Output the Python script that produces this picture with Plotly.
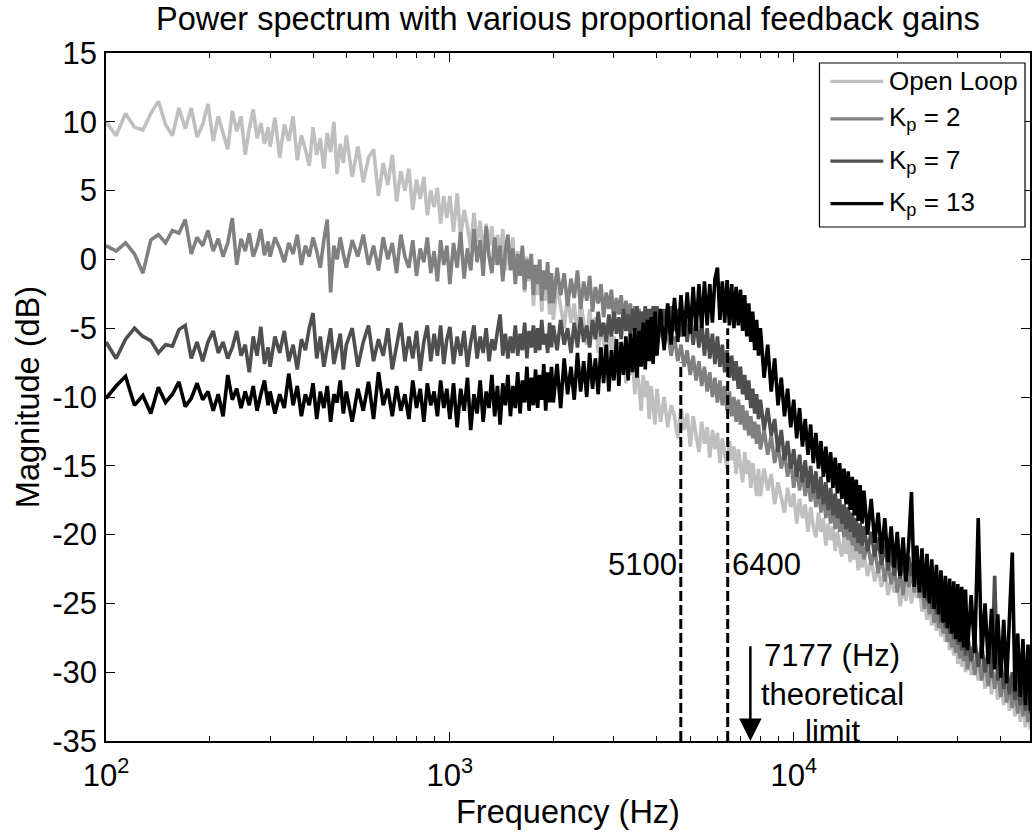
import numpy as np
import plotly.graph_objects as go

# ---------------- data ----------------
freq_hz = [
    # 100-296 Hz
    100, 107, 114, 121, 128, 135, 142, 149, 156, 163,
    170, 177, 184, 191, 198, 205, 212, 219, 226, 233,
    240, 247, 254, 261, 268, 275, 282, 289, 296,
    # 300-490 Hz
    300, 310, 320, 330, 340, 350, 360, 370, 380, 390,
    400, 410, 420, 430, 440, 450, 460, 470, 480, 490,
    # 500-980 Hz
    500, 520, 540, 560, 580, 600, 620, 640, 660, 680,
    700, 720, 740, 760, 780, 800, 820, 840, 860, 880,
    900, 920, 940, 960, 980,
    # 1000-1975 Hz
    1000, 1025, 1050, 1075, 1100, 1125, 1150, 1175, 1200, 1225,
    1250, 1275, 1300, 1325, 1350, 1375, 1400, 1425, 1450, 1475,
    1500, 1525, 1550, 1575, 1600, 1625, 1650, 1675, 1700, 1725,
    1750, 1775, 1800, 1825, 1850, 1875, 1900, 1925, 1950, 1975,
    # 2000-3950 Hz
    2000, 2050, 2100, 2150, 2200, 2250, 2300, 2350, 2400, 2450,
    2500, 2550, 2600, 2650, 2700, 2750, 2800, 2850, 2900, 2950,
    3000, 3050, 3100, 3150, 3200, 3250, 3300, 3350, 3400, 3450,
    3500, 3550, 3600, 3650, 3700, 3750, 3800, 3850, 3900, 3950,
    # 4000-7900 Hz
    4000, 4100, 4200, 4300, 4400, 4500, 4600, 4700, 4800, 4900,
    5000, 5100, 5200, 5300, 5400, 5500, 5600, 5700, 5800, 5900,
    6000, 6100, 6200, 6300, 6400, 6500, 6600, 6700, 6800, 6900,
    7000, 7100, 7200, 7300, 7400, 7500, 7600, 7700, 7800, 7900,
    # 8000-15800 Hz
    8000, 8200, 8400, 8600, 8800, 9000, 9200, 9400, 9600, 9800,
    10000, 10200, 10400, 10600, 10800, 11000, 11200, 11400, 11600, 11800,
    12000, 12200, 12400, 12600, 12800, 13000, 13200, 13400, 13600, 13800,
    14000, 14200, 14400, 14600, 14800, 15000, 15200, 15400, 15600, 15800,
    # 16000-31600 Hz
    16000, 16400, 16800, 17200, 17600, 18000, 18400, 18800, 19200, 19600,
    20000, 20400, 20800, 21200, 21600, 22000, 22400, 22800, 23200, 23600,
    24000, 24400, 24800, 25200, 25600, 26000, 26400, 26800, 27200, 27600,
    28000, 28400, 28800, 29200, 29600, 30000, 30400, 30800, 31200, 31600,
    # 32000-48800 Hz
    32000, 32800, 33600, 34400, 35200, 36000, 36800, 37600, 38400, 39200,
    40000, 40800, 41600, 42400, 43200, 44000, 44800, 45600, 46400, 47200,
    48000, 48800]

open_loop_db = [
    10.0, 9.0, 10.6, 9.6, 9.4, 10.6, 11.5, 9.8, 9.0, 11.0,
    9.5, 11.0, 8.9, 9.8, 11.3, 8.6, 10.4, 9.2, 8.0, 10.8,
    9.3, 10.4, 7.6, 9.5, 10.9, 8.8, 9.9, 8.4, 9.6,
    8.2, 10.3, 7.4, 9.8, 8.6, 10.4, 7.2, 9.0, 8.0, 6.8,
    9.6, 7.6, 8.8, 6.6, 9.2, 7.8, 10.0, 6.2, 8.4, 7.0,
    9.0, 6.0, 8.2, 5.6, 7.4, 8.0, 4.6, 7.0, 5.4, 7.6,
    4.2, 6.4, 5.0, 6.6, 3.6, 5.8, 4.4, 6.0, 3.2, 5.0,
    3.8, 5.2, 2.6, 4.6, 3.0,
    4.6, 2.0, 4.8, 1.6, 3.6, 2.4, 0.8, 3.4, 1.2, 2.8,
    0.2, 2.6, 1.0, 2.4, -0.4, 1.8, 0.4, 2.2, -0.8, 1.4,
    -0.2, 1.6, -1.4, 0.6, -1.0, 0.8, -2.4, 0.2, -1.6, -0.2,
    -3.4, -0.8, -2.6, -0.6, -3.8, -1.4, -3.0, -1.0, -4.0, -1.8,
    -4.4, -1.8, -3.6, -5.0, -2.6, -4.6, -3.2, -5.6, -3.0, -4.8,
    -6.2, -3.6, -5.4, -4.2, -6.8, -4.6, -6.0, -7.4, -5.0, -6.6,
    -5.6, -8.2, -6.0, -7.6, -6.4, -9.0, -6.8, -8.4, -7.2, -9.8,
    -7.6, -9.2, -11.0, -8.4, -10.0, -8.8, -11.6, -9.2, -10.8, -12.0,
    -9.4, -11.8, -10.0, -12.2, -10.6, -11.4, -13.0, -10.8, -12.4, -11.2,
    -13.6, -11.4, -12.8, -14.0, -11.8, -13.4, -12.2, -14.4, -12.4, -13.8,
    -12.6, -14.8, -13.0, -14.2, -15.2, -13.2, -14.6, -13.6, -15.6, -13.8,
    -15.0, -16.2, -14.0, -15.6, -14.6, -16.6, -14.8, -16.0, -17.2, -15.2,
    -17.2, -15.2, -16.8, -15.6, -17.8, -16.2, -17.4, -18.4, -16.6, -18.0,
    -17.0, -19.2, -17.4, -18.8, -17.8, -19.8, -18.0, -19.4, -20.2, -18.4,
    -19.8, -18.8, -20.8, -19.2, -20.4, -19.4, -21.2, -19.8, -20.8, -21.6,
    -20.2, -21.4, -20.4, -22.0, -20.8, -21.8, -21.0, -22.6, -21.2, -22.4,
    -21.4, -23.0, -21.8, -23.4, -22.4, -23.8, -22.6, -24.4, -23.2, -24.2,
    -23.6, -25.2, -23.8, -24.8, -23.4, -25.0, -23.6, -24.6, -23.8, -25.6,
    -24.4, -26.2, -24.8, -26.6, -25.4, -27.0, -25.6, -27.4, -26.0, -27.8,
    -26.4, -28.4, -26.8, -28.8, -27.2, -29.4, -27.6, -29.6, -28.0, -30.0,
    -28.2, -30.2, -28.6, -30.6, -29.0, -31.2, -29.4, -31.6, -30.0, -32.0,
    -30.4, -32.4, -30.8, -32.8, -31.2, -33.2, -31.6, -33.6, -32.0, -34.0,
    -32.4, -34.2]

kp2_db = [
    1.0, 0.6, 1.2, 0.4, -1.0, 1.4, 1.8, 1.2, 2.1, 1.9,
    2.9, 0.4, 1.6, 1.0, 2.1, 0.6, 1.5, 0.2, 1.2, 3.0,
    -0.4, 1.5, 0.6, 1.9, 0.2, 1.0, 2.2, 0.3, 1.3,
    0.2, 1.6, 0.8, -0.2, 1.2, 0.4, 1.8, -0.4, 1.0, 0.2,
    1.6, 0.6, -0.6, 1.4, 2.9, -2.4, 1.0, 0.0, 1.6, 0.4,
    -0.6, 1.4, 0.2, 1.8, -0.4, 1.0, -0.8, 1.6, 0.0, 1.2,
    -1.0, 1.8, 0.2, -0.6, 1.4, -1.2, 0.8, -0.2, 1.6, -1.0,
    0.6, -1.6, 1.4, -0.4, 1.0,
    -1.8, 1.2, -0.6, 2.0, -1.4, 0.8, -0.8, 2.2, -0.2, 1.4,
    -1.2, 2.4, 0.2, -1.0, 1.6, -0.4, 1.0, -1.6, 0.6, 1.8,
    -0.8, 0.8, -1.8, 0.4, -1.2, 1.0, -2.2, 0.0, -1.4, 0.4,
    -2.6, -0.4, -1.8, 0.0, -3.0, -0.8, -2.2, -0.2, -3.2, -1.0,
    -3.2, -0.6, -2.6, -1.0, -3.4, -1.4, -2.8, -0.8, -3.6, -1.6,
    -3.0, -1.2, -3.8, -2.0, -3.2, -1.8, -4.2, -2.4, -3.6, -2.2,
    -4.6, -2.8, -4.0, -2.6, -4.9, -3.0, -4.4, -3.2, -5.2, -3.4,
    -4.8, -3.6, -5.4, -3.8, -5.0, -4.0, -5.8, -4.2, -5.6, -4.4,
    -6.4, -4.8, -6.2, -5.2, -7.0, -5.6, -7.4, -6.2, -7.8, -6.6,
    -8.4, -7.0, -8.8, -7.4, -9.2, -7.8, -9.6, -8.2, -10.0, -8.6,
    -10.4, -8.8, -10.6, -9.2, -11.0, -9.6, -11.4, -10.0, -11.8, -10.2,
    -12.0, -10.6, -12.4, -11.0, -12.8, -11.4, -13.0, -11.8, -13.4, -12.0,
    -13.8, -12.4, -14.2, -12.8, -14.8, -13.4, -15.2, -14.0, -15.8, -14.4,
    -16.6, -15.0, -16.8, -15.4, -17.2, -15.8, -17.6, -16.2, -18.0, -16.6,
    -18.4, -17.0, -18.8, -17.4, -19.2, -17.8, -19.6, -18.2, -19.8, -18.6,
    -20.2, -18.8, -20.4, -19.2, -20.8, -19.6, -21.2, -19.8, -21.4, -20.2,
    -21.8, -20.6, -22.2, -21.0, -22.8, -21.6, -23.4, -22.0, -23.6, -22.4,
    -24.2, -22.8, -24.4, -22.6, -23.8, -22.4, -24.2, -22.8, -24.6, -23.4,
    -25.4, -23.8, -25.8, -24.4, -26.4, -25.0, -26.8, -25.4, -27.2, -25.8,
    -27.8, -26.2, -28.2, -26.6, -28.6, -27.0, -29.0, -27.4, -29.2, -27.8,
    -29.8, -28.2, -30.2, -28.6, -30.6, -29.0, -31.0, -29.4, -31.2, -29.8,
    -31.8, -30.2, -32.2, -30.6, -32.6, -31.0, -33.0, -31.4, -33.2, -31.8,
    -33.6, -32.2]

kp7_db = [
    -6.0, -7.2, -5.8, -5.0, -5.6, -5.9, -6.8, -6.2, -6.3, -5.1,
    -4.8, -7.2, -6.0, -7.4, -6.0, -5.2, -6.8, -6.0, -7.2, -6.4,
    -5.2, -7.0, -6.2, -8.2, -5.6, -7.0, -4.9, -7.6, -6.4,
    -7.8, -5.6, -6.8, -5.2, -7.4, -6.2, -8.0, -5.8, -6.6, -5.0,
    -3.9, -7.2, -5.6, -7.8, -6.2, -5.0, -7.6, -6.4, -5.4, -8.0,
    -6.2, -5.0, -7.8, -6.0, -4.8, -7.4, -5.8, -7.0, -5.0, -8.0,
    -6.2, -4.6, -7.4, -5.6, -7.2, -5.2, -8.1, -6.0, -4.8, -7.4,
    -5.4, -7.0, -4.8, -7.6, -5.8,
    -4.9, -7.6, -5.6, -7.0, -5.2, -7.8, -6.0, -4.8, -7.2, -5.6,
    -6.8, -5.0, -7.4, -5.8, -6.6, -5.2, -4.0, -7.0, -5.4, -7.2,
    -5.6, -6.8, -4.8, -7.0, -5.4, -6.6, -4.6, -7.2, -5.2, -6.4,
    -4.8, -6.8, -5.0, -6.6, -4.4, -6.2, -5.4, -6.8, -4.6, -6.4,
    -4.8, -6.6, -4.4, -6.2, -5.0, -6.8, -4.6, -6.4, -4.2, -6.0,
    -4.8, -6.4, -4.4, -5.8, -3.8, -5.6, -4.6, -6.0, -4.0, -5.6,
    -3.8, -5.4, -4.2, -5.8, -3.6, -5.2, -4.0, -5.6, -3.6, -5.2,
    -3.4, -5.4, -3.8, -5.2, -3.4, -5.0, -3.6, -5.4, -3.4, -5.0,
    -3.4, -5.2, -3.6, -5.4, -3.4, -5.2, -3.6, -5.6, -3.8, -6.0,
    -4.0, -6.2, -4.4, -6.4, -4.6, -7.0, -5.0, -7.2, -5.4, -7.6,
    -5.6, -7.8, -6.2, -8.2, -6.6, -8.6, -7.0, -8.8, -7.4, -9.4,
    -7.8, -9.8, -8.4, -10.2, -8.8, -10.8, -9.4, -11.2, -9.8, -11.6,
    -10.2, -12.4, -10.8, -12.8, -11.6, -14.0, -12.4, -14.6, -13.2, -15.2,
    -13.8, -15.8, -14.2, -16.2, -14.6, -16.6, -15.0, -17.0, -15.4, -17.4,
    -15.8, -17.8, -16.2, -18.2, -16.6, -18.6, -17.0, -18.8, -17.4, -19.2,
    -17.8, -19.6, -18.0, -19.8, -18.4, -20.2, -18.8, -20.6, -19.2, -20.8,
    -19.4, -21.2, -19.8, -21.6, -20.2, -22.2, -20.6, -22.6, -21.2, -23.0,
    -21.6, -23.2, -21.8, -23.4, -21.6, -23.0, -21.8, -23.6, -22.2, -24.2,
    -22.8, -24.8, -23.2, -25.4, -23.8, -25.8, -24.2, -26.4, -24.6, -26.8,
    -25.0, -27.2, -25.6, -27.6, -26.0, -28.0, -26.4, -28.4, -26.8, -28.8,
    -27.2, -29.2, -27.6, -29.6, -28.0, -30.0, -28.4, -30.4, -23.0, -30.6,
    -29.2, -31.2, -29.6, -31.6, -30.0, -32.0, -30.4, -32.4, -30.8, -32.8,
    -31.2, -33.0]

kp13_db = [
    -10.1, -9.2, -8.5, -10.6, -9.9, -11.2, -9.3, -10.4, -9.8, -8.9,
    -10.7, -10.1, -9.0, -10.2, -9.6, -11.0, -9.8, -11.4, -8.4, -10.2,
    -9.4, -10.8, -9.6, -10.6, -9.2, -11.0, -9.8, -8.8, -10.6,
    -9.6, -11.2, -9.8, -10.8, -8.3, -10.6, -9.2, -11.4, -9.8, -10.6,
    -9.0, -11.6, -9.6, -10.8, -9.2, -11.8, -9.8, -10.4, -8.8, -11.2,
    -9.6, -11.8, -9.4, -11.0, -8.9, -11.6, -8.2, -10.6, -9.4, -11.4,
    -9.2, -11.0, -9.8, -11.6, -8.8, -10.8, -9.4, -11.8, -9.0, -10.6,
    -9.6, -11.4, -8.8, -10.8, -9.4,
    -11.6, -9.0, -12.2, -9.4, -11.0, -8.6, -12.4, -9.8, -11.2, -8.8,
    -11.8, -9.6, -10.8, -8.4, -11.4, -9.2, -12.0, -9.0, -10.6, -8.4,
    -11.4, -9.2, -10.8, -8.2, -11.2, -8.8, -10.4, -7.8, -11.0, -8.6,
    -10.6, -8.0, -10.8, -8.4, -10.2, -7.6, -11.0, -8.2, -10.4, -7.8,
    -10.4, -7.6, -10.8, -7.2, -9.8, -7.8, -10.2, -6.8, -9.6, -7.4,
    -10.0, -6.8, -9.4, -7.2, -9.8, -6.4, -9.0, -6.2, -9.6, -6.6,
    -8.8, -5.8, -9.2, -6.0, -8.4, -5.6, -8.8, -5.4, -8.2, -5.0,
    -8.6, -5.2, -7.8, -4.6, -8.0, -4.4, -7.4, -4.2, -7.6, -3.8,
    -7.0, -3.6, -6.6, -3.2, -6.2, -2.8, -6.0, -2.6, -5.6, -2.4,
    -5.4, -2.0, -5.2, -1.8, -5.0, -1.6, -4.8, -1.8, -4.6, -1.4,
    -0.6, -4.4, -1.6, -4.6, -1.5, -4.8, -1.8, -5.0, -2.0, -4.8,
    -2.2, -5.2, -2.6, -5.6, -3.2, -6.0, -3.8, -6.6, -4.4, -7.0,
    -5.0, -8.6, -6.2, -9.6, -7.2, -10.6, -8.6, -11.4, -9.4, -12.2,
    -10.2, -13.0, -10.8, -13.6, -11.6, -14.2, -12.0, -14.8, -12.6, -15.2,
    -13.2, -15.8, -13.6, -16.2, -14.0, -16.6, -14.4, -17.0, -14.8, -17.4,
    -15.2, -17.8, -15.4, -18.2, -15.8, -18.6, -16.0, -19.0, -16.4, -19.2,
    -16.8, -20.0, -17.4, -20.6, -18.4, -21.4, -18.8, -22.0, -19.4, -22.4,
    -19.8, -23.0, -20.2, -23.4, -20.6, -16.9, -23.8, -20.8, -24.2, -21.0,
    -24.6, -21.4, -25.0, -21.8, -25.4, -22.2, -25.8, -22.6, -26.4, -23.0,
    -26.8, -23.2, -27.2, -23.4, -27.6, -23.6, -27.8, -23.8, -28.2, -24.0,
    -28.4, -24.4, -28.6, -18.8, -29.0, -25.0, -29.4, -25.4, -29.8, -25.8,
    -30.4, -26.2, -30.8, -26.6, -21.3, -31.4, -27.2, -31.8, -27.6, -32.4,
    -28.0, -32.8]

series_names = ["Open Loop", "K<sub>p</sub> = 2", "K<sub>p</sub> = 7", "K<sub>p</sub> = 13"]
series_colors = ["#bfbfbf", "#808080", "#4f4f4f", "#000000"]

cutoff_hz = [4694, 6427]           # dashed marker lines
cutoff_top_db = [-7.5, -5.0]
cutoff_labels = ["5100", "6400"]
cutoff_label_db = -22.2
limit_arrow_hz = 7480
limit_arrow_top_db = -28.0
limit_text = ["7177 (Hz)", "theoretical", "limit"]
limit_text_db = [-28.8, -31.6, -34.3]

y_ticks = [-35, -30, -25, -20, -15, -10, -5, 0, 5, 10, 15]
y_tick_text = ["-35", "-30", "-25", "-20", "-15", "-10", "-5", "0", "5", "10", "15"]
x_ticks = [100, 1000, 10000]
x_tick_text = ["10<sup>2</sup>", "10<sup>3</sup>", "10<sup>4</sup>"]
x_minor = [200, 300, 400, 500, 600, 700, 800, 900,
           2000, 3000, 4000, 5000, 6000, 7000, 8000, 9000,
           20000, 30000, 40000]
x_range_hz = [100, 48650]
y_range_db = [-35, 15]

# ---------------- layout constants ----------------
W, H = 1032, 835
PL, PR, PT, PB = 106, 1032, 53, 741
FONT = "Liberation Sans, Arial, Helvetica, sans-serif"


def pxx(px):
    return (px - PL) / (PR - PL)


def pxy(py):
    return (PB - py) / (PB - PT)


all_series = [open_loop_db, kp2_db, kp7_db, kp13_db]
for s in all_series:
    assert len(s) == len(freq_hz), (len(s), len(freq_hz))

fig = go.Figure()
for name, color, vals in zip(series_names, series_colors, all_series):
    fig.add_trace(go.Scatter(x=freq_hz, y=vals, mode="lines", name=name,
                             line=dict(color=color, width=3.6),
                             showlegend=False, hoverinfo="skip"))

for f, top in zip(cutoff_hz, cutoff_top_db):
    fig.add_trace(go.Scatter(x=[f, f], y=[y_range_db[0], top], mode="lines",
                             line=dict(color="black", width=3, dash="10px,4px"),
                             showlegend=False, hoverinfo="skip"))

ann = []
ann.append(dict(x=np.log10(cutoff_hz[0]), y=cutoff_label_db, xref="x", yref="y",
                text=cutoff_labels[0], showarrow=False, xanchor="right", yanchor="middle",
                xshift=-2, font=dict(size=31, color="black", family=FONT)))
ann.append(dict(x=np.log10(cutoff_hz[1]), y=cutoff_label_db, xref="x", yref="y",
                text=cutoff_labels[1], showarrow=False, xanchor="left", yanchor="middle",
                xshift=2, font=dict(size=31, color="black", family=FONT)))
ann.append(dict(x=np.log10(limit_arrow_hz), y=y_range_db[0], xref="x", yref="y",
                ax=np.log10(limit_arrow_hz), ay=limit_arrow_top_db, axref="x", ayref="y",
                text="", showarrow=True, arrowhead=2, arrowsize=1.8, arrowwidth=2.5,
                arrowcolor="black"))
for t, yv in zip(limit_text, limit_text_db):
    ann.append(dict(x=np.log10(limit_arrow_hz), y=yv, xref="x", yref="y", text=t,
                    showarrow=False, xanchor="center", yanchor="middle", xshift=82,
                    font=dict(size=31, color="black", family=FONT)))
ann.append(dict(x=0.5, y=pxy(18.5), xref="paper", yref="paper",
                text="Power spectrum with various proportional feedback gains",
                showarrow=False, xanchor="center", yanchor="middle",
                font=dict(size=32.5, color="black", family=FONT)))
ann.append(dict(x=0.5, y=pxy(812), xref="paper", yref="paper", text="Frequency (Hz)",
                showarrow=False, xanchor="center", yanchor="middle",
                font=dict(size=32.5, color="black", family=FONT)))
ann.append(dict(x=pxx(28), y=0.5, xref="paper", yref="paper", text="Magnitude (dB)",
                showarrow=False, xanchor="center", yanchor="middle", textangle=-90,
                font=dict(size=32.5, color="black", family=FONT)))

# MATLAB-style legend box
shapes = [dict(type="rect", xref="paper", yref="paper", x0=pxx(821), x1=pxx(1027),
               y0=pxy(227), y1=pxy(63), line=dict(color="black", width=1.2),
               fillcolor="white", layer="above")]
leg_y = [81.4, 118.8, 161.2, 203.6]
for name, color, ly in zip(series_names, series_colors, leg_y):
    shapes.append(dict(type="line", xref="paper", yref="paper", x0=pxx(832), x1=pxx(885),
                       y0=pxy(ly), y1=pxy(ly), line=dict(color=color, width=3.3),
                       layer="above"))
    ann.append(dict(x=pxx(889), y=pxy(ly), xref="paper", yref="paper", text=name,
                    showarrow=False, xanchor="left", yanchor="middle",
                    font=dict(size=26, color="black", family=FONT)))

axis_common = dict(showline=True, linecolor="black", linewidth=1.5, mirror="ticks",
                   ticks="inside", tickcolor="black", tickwidth=1.2, showgrid=False,
                   zeroline=False, tickfont=dict(size=31, color="black", family=FONT))

fig.update_layout(
    width=W, height=H, autosize=False,
    margin=dict(l=PL, r=W - PR, t=PT, b=H - PB, pad=0),
    paper_bgcolor="white", plot_bgcolor="white",
    showlegend=False,
    xaxis=dict(type="log", range=[np.log10(x_range_hz[0]), np.log10(x_range_hz[1])],
               tickmode="array", tickvals=x_ticks, ticktext=x_tick_text, ticklen=9,
               ticklabelstandoff=6,
               minor=dict(tickmode="array", tickvals=x_minor, ticks="inside", ticklen=5,
                          tickcolor="black", tickwidth=1, showgrid=False),
               **axis_common),
    yaxis=dict(range=y_range_db, tickmode="array", tickvals=y_ticks, ticktext=y_tick_text,
               ticklen=9, ticklabelstandoff=1, **axis_common),
    annotations=ann,
    shapes=shapes,
)

fig.write_html("out.html")
